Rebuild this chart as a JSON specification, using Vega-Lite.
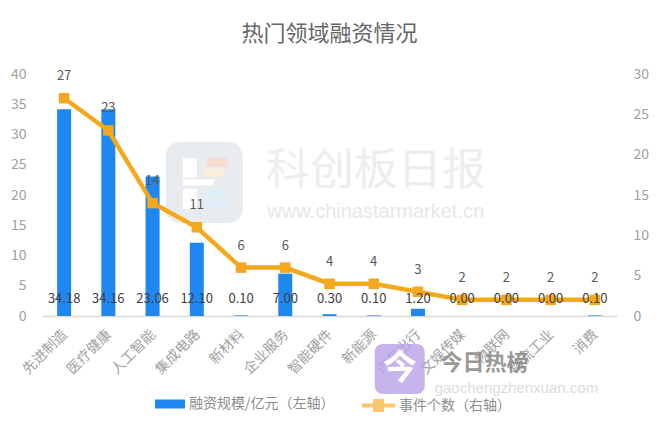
{
  "$schema": "https://vega.github.io/schema/vega-lite/v6.json",
  "description": "热门领域融资情况",
  "width": 575,
  "height": 242,
  "autosize": "none",
  "padding": {"left": 42, "top": 74, "right": 43, "bottom": 113},
  "background": "white",
  "title": {"text": "热门领域融资情况", "fontSize": 22, "fontWeight": "normal", "color": "#666666", "font": "Noto Sans CJK SC", "anchor": "middle", "offset": 21},
  "config": {
    "font": "Noto Sans CJK SC",
    "view": {"stroke": null},
    "axis": {"grid": false, "ticks": false, "labelFont": "Noto Sans CJK SC", "titleFont": "Noto Sans CJK SC"},
    "legend": {"labelFont": "Noto Sans CJK SC"}
  },
  "data": {
    "values": [
      {"field": "先进制造", "funding": 34.18, "events": 27},
      {"field": "医疗健康", "funding": 34.16, "events": 23},
      {"field": "人工智能", "funding": 23.06, "events": 14},
      {"field": "集成电路", "funding": 12.10, "events": 11},
      {"field": "新材料", "funding": 0.10, "events": 6},
      {"field": "企业服务", "funding": 7.00, "events": 6},
      {"field": "智能硬件", "funding": 0.30, "events": 4},
      {"field": "新能源", "funding": 0.10, "events": 4},
      {"field": "汽车出行", "funding": 1.20, "events": 3},
      {"field": "文娱传媒", "funding": 0.00, "events": 2},
      {"field": "物联网", "funding": 0.00, "events": 2},
      {"field": "物流工业", "funding": 0.00, "events": 2},
      {"field": "消费", "funding": 0.10, "events": 2}
    ]
  },
  "encoding": {
    "x": {
      "field": "field",
      "type": "nominal",
      "sort": null,
      "title": null,
      "scale": {
        "domain": ["先进制造", "医疗健康", "人工智能", "集成电路", "新材料", "企业服务", "智能硬件", "新能源", "汽车出行", "文娱传媒", "物联网", "物流工业", "消费"],
        "paddingInner": 0,
        "paddingOuter": 0
      },
      "axis": {"labelAngle": -45, "labelFontSize": 14, "labelColor": "#a0a0a0", "domainColor": "#d9d9d9", "domainWidth": 1.5, "labelPadding": 11, "labelOffset": -4}
    }
  },
  "layer": [
    {
      "data": {"values": [{}]},
      "mark": {"type": "bar", "width": 77, "cornerRadius": 14, "color": "#e9ecef", "xOffset": 7.5},
      "encoding": {
        "x": {"datum": "集成电路", "type": "nominal"},
        "y": {"datum": 28.76, "type": "quantitative", "scale": {"domain": [0, 40]}, "axis": null},
        "y2": {"datum": 15.37}
      }
    },
    {
      "data": {"values": [{}]},
      "mark": {"type": "bar", "width": 14, "color": "#ffffff", "xOffset": -7},
      "encoding": {
        "x": {"datum": "集成电路", "type": "nominal"},
        "y": {"datum": 26.1, "type": "quantitative", "scale": {"domain": [0, 40]}, "axis": null},
        "y2": {"datum": 22.9}
      }
    },
    {
      "data": {"values": [{}]},
      "mark": {"type": "bar", "width": 31, "color": "#ffffff", "xOffset": 1.5},
      "encoding": {
        "x": {"datum": "集成电路", "type": "nominal"},
        "y": {"datum": 22.6, "type": "quantitative", "scale": {"domain": [0, 40]}, "axis": null},
        "y2": {"datum": 21.6}
      }
    },
    {
      "data": {"values": [{}]},
      "mark": {"type": "bar", "width": 14, "color": "#ffffff", "xOffset": -7},
      "encoding": {
        "x": {"datum": "集成电路", "type": "nominal"},
        "y": {"datum": 21.0, "type": "quantitative", "scale": {"domain": [0, 40]}, "axis": null},
        "y2": {"datum": 17.7}
      }
    },
    {
      "data": {"values": [{}]},
      "mark": {"type": "bar", "width": 21, "color": "#f6dcd0", "xOffset": 20.5},
      "encoding": {
        "x": {"datum": "集成电路", "type": "nominal"},
        "y": {"datum": 26.1, "type": "quantitative", "scale": {"domain": [0, 40]}, "axis": null},
        "y2": {"datum": 24.6}
      }
    },
    {
      "data": {"values": [{}]},
      "mark": {"type": "bar", "width": 21, "color": "#fbeed8", "xOffset": 16.5},
      "encoding": {
        "x": {"datum": "集成电路", "type": "nominal"},
        "y": {"datum": 24.3, "type": "quantitative", "scale": {"domain": [0, 40]}, "axis": null},
        "y2": {"datum": 23}
      }
    },
    {
      "data": {"values": [{}]},
      "mark": {"type": "bar", "width": 21, "color": "#dff0f8", "xOffset": 16.5},
      "encoding": {
        "x": {"datum": "集成电路", "type": "nominal"},
        "y": {"datum": 21, "type": "quantitative", "scale": {"domain": [0, 40]}, "axis": null},
        "y2": {"datum": 19.7}
      }
    },
    {
      "data": {"values": [{}]},
      "mark": {"type": "bar", "width": 25, "color": "#e2eef7", "xOffset": 18.5},
      "encoding": {
        "x": {"datum": "集成电路", "type": "nominal"},
        "y": {"datum": 19.2, "type": "quantitative", "scale": {"domain": [0, 40]}, "axis": null},
        "y2": {"datum": 17.9}
      }
    },
    {
      "data": {"values": [{}]},
      "mark": {"type": "text", "fontSize": 44, "color": "#eceef0", "dx": 2},
      "encoding": {
        "x": {"datum": "新能源", "type": "nominal"},
        "y": {"datum": 23.8, "type": "quantitative", "scale": {"domain": [0, 40]}, "axis": null},
        "text": {"value": "科创板日报"}
      }
    },
    {
      "data": {"values": [{}]},
      "mark": {"type": "text", "fontSize": 20, "color": "#e6e8ea", "font": "Liberation Sans", "dx": 2},
      "encoding": {
        "x": {"datum": "新能源", "type": "nominal"},
        "y": {"datum": 17.2, "type": "quantitative", "scale": {"domain": [0, 40]}, "axis": null},
        "text": {"value": "www.chinastarmarket.cn"}
      }
    },
    {
      "mark": {"type": "bar", "width": 14},
      "encoding": {
        "y": {
          "field": "funding",
          "type": "quantitative",
          "title": null,
          "scale": {"domain": [0, 40]},
          "axis": {"orient": "left", "values": [0, 5, 10, 15, 20, 25, 30, 35, 40], "domain": false, "labelFontSize": 14, "labelColor": "#a0a0a0", "labelPadding": 16}
        },
        "fill": {
          "datum": "融资规模/亿元（左轴）",
          "scale": {"range": ["#1E88F0"]},
          "legend": {"orient": "none", "legendX": 113, "legendY": 315, "title": null, "symbolType": "M-1,-0.3H1V0.3H-1Z", "symbolSize": 900, "symbolStrokeWidth": 0, "labelFontSize": 14, "labelColor": "#8c8c8c"}
        }
      }
    },
    {
      "mark": {"type": "line", "strokeWidth": 4.5},
      "encoding": {
        "y": {
          "field": "events",
          "type": "quantitative",
          "title": null,
          "scale": {"domain": [0, 30]},
          "axis": {"orient": "right", "values": [0, 5, 10, 15, 20, 25, 30], "domain": false, "labelFontSize": 14, "labelColor": "#a0a0a0", "labelPadding": 16}
        },
        "stroke": {
          "datum": "事件个数（右轴）",
          "scale": {"range": ["#F5A81C"]},
          "legend": {
            "orient": "none",
            "legendX": 320,
            "legendY": 315,
            "title": null,
            "symbolType": "M-1,-0.12H-0.33V-0.4H0.33V-0.12H1V0.12H0.33V0.4H-0.33V0.12H-1Z",
            "symbolSize": 1089,
            "symbolStrokeWidth": 0,
            "labelFontSize": 14,
            "labelColor": "#8c8c8c",
            "encode": {"symbols": {"update": {"fill": {"value": "#FBC56B"}, "strokeWidth": {"value": 0}}}}
          }
        }
      }
    },
    {
      "mark": {"type": "point", "shape": "square", "filled": true, "size": 110, "color": "#F5A81C", "opacity": 1},
      "encoding": {
        "y": {"field": "events", "type": "quantitative", "scale": {"domain": [0, 30]}, "axis": null}
      }
    },
    {
      "mark": {"type": "text", "fontSize": 13, "color": "#404040", "dy": -17},
      "encoding": {
        "y": {"datum": 0, "type": "quantitative", "scale": {"domain": [0, 40]}, "axis": null},
        "text": {"field": "funding", "type": "quantitative", "format": ".2f"}
      }
    },
    {
      "mark": {"type": "text", "fontSize": 13, "color": "#595959", "dy": -22},
      "encoding": {
        "y": {"field": "events", "type": "quantitative", "scale": {"domain": [0, 30]}, "axis": null},
        "text": {"field": "events", "type": "quantitative"}
      }
    },
    {
      "data": {"values": [{}]},
      "mark": {"type": "bar", "width": 50, "cornerRadius": 8, "color": "#B9A3E8", "opacity": 0.82, "xOffset": 26},
      "encoding": {
        "x": {"datum": "新能源", "type": "nominal"},
        "y": {"datum": -4.63, "type": "quantitative", "scale": {"domain": [0, 40]}, "axis": null},
        "y2": {"datum": -12.9}
      }
    },
    {
      "data": {"values": [{}]},
      "mark": {"type": "text", "fontSize": 34, "fontWeight": "bold", "color": "white", "dx": 26},
      "encoding": {
        "x": {"datum": "新能源", "type": "nominal"},
        "y": {"datum": -8.8, "type": "quantitative", "scale": {"domain": [0, 40]}, "axis": null},
        "text": {"value": "今"}
      }
    },
    {
      "data": {"values": [{}]},
      "mark": {"type": "text", "fontSize": 22, "fontWeight": "bold", "color": "#888888", "opacity": 0.85, "dx": -22},
      "encoding": {
        "x": {"datum": "物联网", "type": "nominal"},
        "y": {"datum": -7.77, "type": "quantitative", "scale": {"domain": [0, 40]}, "axis": null},
        "text": {"value": "今日热榜"}
      }
    },
    {
      "data": {"values": [{}]},
      "mark": {"type": "text", "fontSize": 15, "color": "#dcdcdc", "font": "Liberation Sans", "dx": 10},
      "encoding": {
        "x": {"datum": "物联网", "type": "nominal"},
        "y": {"datum": -11.9, "type": "quantitative", "scale": {"domain": [0, 40]}, "axis": null},
        "text": {"value": "gaochengzhenxuan.com"}
      }
    }
  ],
  "resolve": {"scale": {"y": "independent", "fill": "independent", "stroke": "independent"}}
}
